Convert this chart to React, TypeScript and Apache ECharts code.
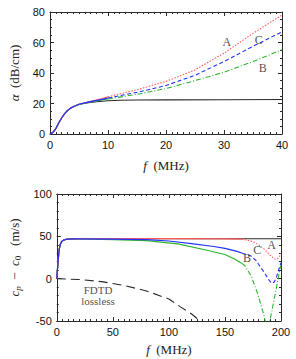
import React, { useEffect, useRef } from "react";
import * as echarts from "echarts";

// ---------- Top panel: attenuation alpha (dB/cm) vs f (MHz) ----------
const topBlackF = [0, 0.5, 1, 1.5, 2, 2.5, 3, 3.5, 4, 5, 6, 7, 8, 9, 10, 12, 15, 20, 30, 40];
const topBlackV = [0, 1, 3.5, 7.2, 10.5, 13.2, 15.3, 16.8, 17.9, 19.4, 20.2, 20.7, 21.1, 21.5, 21.8, 22.1, 22.3, 22.4, 22.5, 22.6];

const topF = [0, 0.5, 1, 1.5, 2, 2.5, 3, 3.5, 4, 5, 6, 7, 8, 9, 10, 15, 20, 25, 30, 35, 40];
const topA = [0, 1, 3.5, 7.2, 10.5, 13.2, 15.3, 16.8, 17.9, 19.5, 20.5, 21.4, 22.2, 23.2, 24.4, 29, 34.5, 42, 53, 66, 78];
const topC = [0, 1, 3.5, 7.2, 10.5, 13.2, 15.3, 16.8, 17.9, 19.5, 20.4, 21.2, 22, 22.7, 23.6, 27.3, 31.8, 38.5, 47.5, 57.5, 67];
const topB = [0, 1, 3.5, 7.2, 10.5, 13.2, 15.3, 16.8, 17.9, 19.4, 20.3, 21, 21.7, 22.3, 23, 26, 29.8, 35, 40.5, 47.5, 55.3];
const topSplit = 10;

// ---------- Bottom panel: phase velocity cp - c0 (m/s) vs f (MHz) ----------
const botBlackF = [0, 0.5, 1, 2, 3, 4, 5, 6, 8, 10, 15, 20, 50, 100, 150, 200];
const botBlackV = [0, 9, 17, 33, 40, 43, 44.5, 45.5, 46.3, 46.7, 47, 47.2, 47.2, 47.2, 47.2, 47.2];

const botAF = [0, 0.5, 1, 2, 3, 4, 5, 6, 8, 10, 15, 20, 50, 100, 150, 165, 170, 176, 180, 185, 190, 193, 195, 197, 199, 200];
const botAV = [0, 9, 17, 33, 40, 43, 44.5, 45.5, 46.3, 46.7, 47, 47.2, 47.2, 47.2, 47.1, 46.7, 45.5, 43, 40, 35, 28, 24.5, 23, 23.5, 27, 30];

const botCF = [0, 0.5, 1, 2, 3, 4, 5, 6, 8, 10, 15, 20, 50, 80, 100, 122, 140, 150, 160, 165, 173, 178, 182, 185, 188, 190, 192, 194, 196, 198, 200];
const botCV = [0, 9, 17, 33, 40, 43, 44.5, 45.5, 46.3, 46.7, 47, 47.1, 46.8, 46, 44.5, 41, 38, 35.7, 32.5, 30.3, 27, 21, 13, 7.5, 1, -3, -5.5, -4, 2, 11, 19];

const botBF = [0, 0.5, 1, 2, 3, 4, 5, 6, 8, 10, 15, 20, 50, 80, 108, 136, 150, 159, 165, 168, 173.5, 179, 185, 188, 195, 199, 200];
const botBV = [0, 9, 17, 33, 40, 43, 44.5, 45.5, 46.3, 46.7, 47, 47, 46, 44.9, 41, 33, 28.5, 23, 18, 15, 3, -17, -44, -64, -17, 11, 16];

const botLosslessF = [0, 20, 40, 60, 80, 100, 110, 120, 130, 135];
const botLosslessV = [0, -1, -3.5, -8, -14.5, -24, -33, -41.5, -52, -58];
const botSplit = 165;

// ---------- Annotations (data coordinates) ----------
const topLabels: [number, number, string][] = [
  [30.5, 60.1, "A"],
  [36.0, 61.6, "C"],
  [36.7, 43.1, "B"],
];
const botLabels: [number, number, string][] = [
  [191.5, 39.2, "A"],
  [178.9, 33.9, "C"],
  [169.7, 24.1, "B"],
  [36.8, -13.3, "FDTD"],
  [36.8, -26.5, "lossless"],
];

// ---------- Axis ticks ----------
const topXTicks = { min: 0, max: 40, interval: 10, minor: 10 };
const topYTicks = { min: 0, max: 80, interval: 20, minor: 4 };
const botXTicks = { min: 0, max: 200, interval: 50, minor: 10 };
const botYTicks = { min: -50, max: 100, interval: 50, minor: 5 };

const RED = "#ff5a5a";
const BLUE = "#2233ff";
const GREEN = "#2fb52f";
const BLACK = "#2a2a2a";
const SERIF = "'Liberation Serif', 'DejaVu Serif', serif";
const SANS = "'Liberation Sans', Arial, sans-serif";

function zip(f: number[], v: number[]) {
  return f.map((x, i) => [x, v[i]]);
}
function splitAt(f: number[], v: number[], t: number) {
  const pts = zip(f, v);
  return [pts.filter((p) => p[0] <= t), pts.filter((p) => p[0] >= t)];
}

const richName = {
  it: { fontFamily: SERIF, fontStyle: "italic", fontSize: 13, color: "#222" },
  rm: { fontFamily: SERIF, fontSize: 13, color: "#222" },
  sub: { fontFamily: SERIF, fontStyle: "italic", fontSize: 9, color: "#222", padding: [7, 0, 0, 0] },
  sub0: { fontFamily: SERIF, fontSize: 9, color: "#222", padding: [7, 0, 0, 0] },
};

function axisPair(kind: "x" | "y", gridIndex: number, t: any, name: string, nameGap: number) {
  const common = {
    type: "value",
    gridIndex,
    min: t.min,
    max: t.max,
    interval: t.interval,
    splitLine: { show: false },
    axisLine: { show: true, onZero: false, lineStyle: { color: BLACK, width: 1 } },
    axisTick: { show: true, inside: true, length: 4, lineStyle: { color: BLACK } },
    minorTick: { show: true, splitNumber: t.minor, length: 2, lineStyle: { color: BLACK } },
  };
  const main = {
    ...common,
    position: kind === "x" ? "bottom" : "left",
    axisLabel: { show: true, fontFamily: SANS, fontSize: 11, color: "#111", margin: 5 },
    name,
    nameLocation: "middle",
    nameGap,
    nameTextStyle: { rich: richName },
  };
  const mirror = {
    ...common,
    position: kind === "x" ? "top" : "right",
    axisLabel: { show: false },
  };
  return [main, mirror];
}

function lineSeries(data: number[][], xi: number, color: string, type: any, width = 1.1, z = 2) {
  return {
    type: "line",
    xAxisIndex: xi,
    yAxisIndex: xi,
    data,
    showSymbol: false,
    symbol: "none",
    silent: true,
    z,
    clip: true,
    lineStyle: { color, width, type },
  };
}

function labelSeries(data: [number, number, string][], xi: number, size = 12) {
  return {
    type: "scatter",
    xAxisIndex: xi,
    yAxisIndex: xi,
    data,
    symbolSize: 1,
    silent: true,
    z: 10,
    itemStyle: { color: "transparent" },
    label: {
      show: true,
      position: "inside",
      formatter: (p: any) => p.data[2],
      fontFamily: SERIF,
      fontSize: size,
      lineHeight: size,
      color: "#222",
    },
  };
}

export default function App() {
  const ref = useRef<HTMLDivElement>(null);
  useEffect(() => {
    if (!ref.current) return;
    const chart = echarts.init(ref.current, null, { renderer: "svg" });

    const [tAs, tAd] = splitAt(topF, topA, topSplit);
    const [tCs, tCd] = splitAt(topF, topC, topSplit);
    const [tBs, tBd] = splitAt(topF, topB, topSplit);
    const [bAs, bAd] = splitAt(botAF, botAV, botSplit);
    const [bCs, bCd] = splitAt(botCF, botCV, botSplit);
    const [bBs, bBd] = splitAt(botBF, botBV, botSplit);

    const [tx0, tx1] = axisPair("x", 0, topXTicks, "{it|f}{rm|  (MHz)}", 25);
    const [ty0, ty1] = axisPair("y", 0, topYTicks, "{it|α}{rm|  (dB/cm)}", 29);
    const [bx0, bx1] = axisPair("x", 1, botXTicks, "{it|f}{rm|  (MHz)}", 22);
    const [by0, by1] = axisPair("y", 1, botYTicks, "{it|c}{sub|p}{rm|  −  }{it|c}{sub0|0}{rm|   (m/s)}", 28);

    const dotted = [1.5, 1.5];
    const dashed = [4, 2.5];
    const dashDot = [5, 2, 1, 2];

    chart.setOption({
      animation: false,
      backgroundColor: "#fff",
      grid: [
        { left: 46, top: 12, width: 236, height: 122 },
        { left: 47, top: 194, width: 234, height: 127 },
      ],
      xAxis: [tx0, tx1, bx0, bx1],
      yAxis: [ty0, ty1, by0, by1],
      series: [
        // top panel
        lineSeries(zip(topBlackF, topBlackV), 0, BLACK, "solid", 1.1, 1),
        lineSeries(tBs, 0, GREEN, "solid", 1.2, 2),
        lineSeries(tAs, 0, RED, "solid", 1.2, 3),
        lineSeries(tCs, 0, BLUE, "solid", 1.2, 4),
        lineSeries(tAd, 0, RED, dotted, 1.1, 3),
        lineSeries(tCd, 0, BLUE, dashed, 1.1, 4),
        lineSeries(tBd, 0, GREEN, dashDot, 1.1, 2),
        labelSeries(topLabels, 0),
        // bottom panel
        lineSeries(zip(botBlackF, botBlackV), 2, BLACK, "solid", 1.1, 1),
        lineSeries(zip(botLosslessF, botLosslessV), 2, BLACK, [9, 5], 1.1, 1),
        lineSeries(bBs, 2, GREEN, "solid", 1.2, 2),
        lineSeries(bAs, 2, RED, "solid", 1.2, 3),
        lineSeries(bCs, 2, BLUE, "solid", 1.2, 4),
        lineSeries(bAd, 2, RED, dotted, 1.1, 3),
        lineSeries(bCd, 2, BLUE, dashed, 1.1, 4),
        lineSeries(bBd, 2, GREEN, dashDot, 1.1, 2),
        labelSeries(botLabels.slice(0, 3), 2, 12),
        labelSeries(botLabels.slice(3), 2, 11),
      ],
    });
    return () => chart.dispose();
  }, []);

  return (
    <div
      ref={ref}
      style={{ position: "fixed", left: 0, top: 0, width: 296, height: 359, background: "#fff" }}
    />
  );
}
